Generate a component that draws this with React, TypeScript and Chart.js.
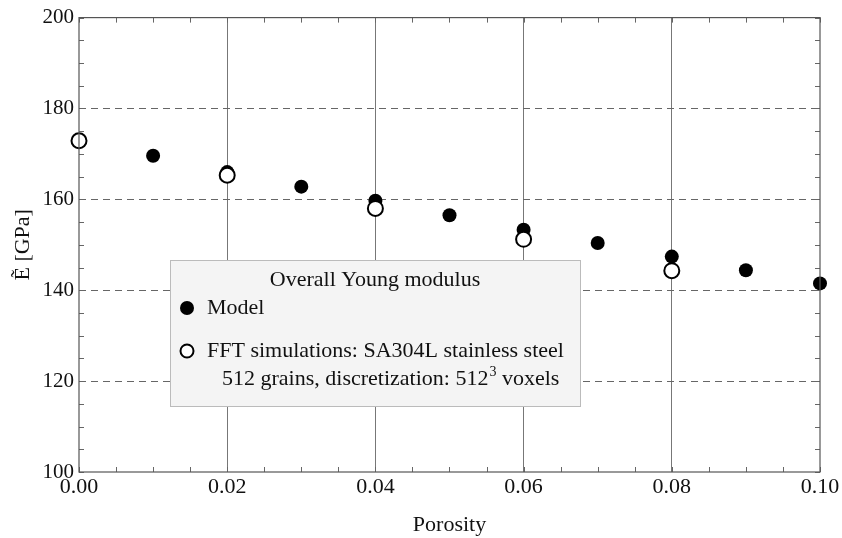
import React, { useEffect, useRef } from 'react';
import { Chart, registerables } from 'chart.js';
Chart.register(...registerables);

const porosityModel = [0, 0.01, 0.02, 0.03, 0.04, 0.05, 0.06, 0.07, 0.08, 0.09, 0.1];
const modelValues = [172.8, 169.6, 166.0, 162.8, 159.7, 156.5, 153.3, 150.4, 147.4, 144.4, 141.5];
const porosityFFT = [0, 0.02, 0.04, 0.06, 0.08];
const fftValues = [172.9, 165.3, 158.0, 151.2, 144.3];
const xTickValues = [0, 0.02, 0.04, 0.06, 0.08, 0.1];
const yTickValues = [100, 120, 140, 160, 180, 200];
const legendTitle = 'Overall Young modulus';
const legendModel = 'Model';
const legendFFT = 'FFT simulations: SA304L stainless steel';
const legendFFT2a = '512 grains, discretization: 512';
const legendFFT2sup = '3';
const legendFFT2b = ' voxels';

const FONT = '"Liberation Serif", "Times New Roman", serif';

const framePlugin = {
  id: 'frameAndLegend',
  afterDatasetsDraw(chart: any) {
    const { ctx, chartArea: a, scales } = chart;
    const xs = scales.x, ys = scales.y;
    ctx.save();
    ctx.strokeStyle = '#666';
    ctx.lineWidth = 1;
    for (let v = 0; v <= 0.1 + 1e-9; v += 0.005) {
      const px = Math.round(xs.getPixelForValue(v)) + 0.5;
      ctx.beginPath();
      ctx.moveTo(px, a.bottom); ctx.lineTo(px, a.bottom - 5);
      ctx.moveTo(px, a.top); ctx.lineTo(px, a.top + 5);
      ctx.stroke();
    }
    for (let v = 100; v <= 200; v += 5) {
      const py = Math.round(ys.getPixelForValue(v)) + 0.5;
      ctx.beginPath();
      ctx.moveTo(a.left, py); ctx.lineTo(a.left + 5, py);
      ctx.moveTo(a.right, py); ctx.lineTo(a.right - 5, py);
      ctx.stroke();
    }
    ctx.strokeStyle = '#555';
    ctx.lineWidth = 1.2;
    ctx.strokeRect(a.left, a.top, a.right - a.left, a.bottom - a.top);
    ctx.restore();
  },
  afterDraw(chart: any) {
    const { ctx } = chart;
    ctx.save();
    const L = 170, T = 260, R = 580, B = 406;
    ctx.fillStyle = '#f4f4f4';
    ctx.fillRect(L, T, R - L, B - T);
    ctx.strokeStyle = '#bbb';
    ctx.lineWidth = 1;
    ctx.strokeRect(L + 0.5, T + 0.5, R - L, B - T);
    ctx.fillStyle = '#111';
    ctx.font = `22px ${FONT}`;
    ctx.textBaseline = 'middle';
    ctx.textAlign = 'center';
    ctx.fillText(legendTitle, (L + R) / 2, 280);
    ctx.textAlign = 'left';
    ctx.beginPath();
    ctx.arc(187, 308, 7, 0, Math.PI * 2);
    ctx.fillStyle = '#000';
    ctx.fill();
    ctx.fillStyle = '#111';
    ctx.fillText(legendModel, 207, 308);
    ctx.beginPath();
    ctx.arc(187, 351, 6.5, 0, Math.PI * 2);
    ctx.fillStyle = '#fff';
    ctx.fill();
    ctx.strokeStyle = '#000';
    ctx.lineWidth = 2;
    ctx.stroke();
    ctx.fillStyle = '#111';
    ctx.fillText(legendFFT, 207, 351);
    let x = 222;
    ctx.fillText(legendFFT2a, x, 379);
    x += ctx.measureText(legendFFT2a).width;
    ctx.font = `14px ${FONT}`;
    ctx.fillText(legendFFT2sup, x + 1, 372);
    x += ctx.measureText(legendFFT2sup).width + 1;
    ctx.font = `22px ${FONT}`;
    ctx.fillText(legendFFT2b, x, 379);
    ctx.restore();
  },
};

export default function App() {
  const ref = useRef<HTMLCanvasElement>(null);
  useEffect(() => {
    document.body.style.margin = '0';
    const chart = new Chart(ref.current as HTMLCanvasElement, {
      type: 'scatter',
      data: {
        datasets: [
          {
            label: legendFFT,
            data: porosityFFT.map((x, i) => ({ x, y: fftValues[i] })),
            pointRadius: 7.5,
            pointBorderWidth: 2,
            pointBackgroundColor: '#fff',
            pointBorderColor: '#000',
            order: 0,
          },
          {
            label: legendModel,
            data: porosityModel.map((x, i) => ({ x, y: modelValues[i] })),
            pointRadius: 7,
            pointBorderWidth: 0,
            pointBackgroundColor: '#000',
            pointBorderColor: '#000',
            order: 1,
          },
        ],
      },
      options: {
        animation: false,
        responsive: false,
        clip: false as any,
        layout: { padding: { top: 12, right: 22, left: 0, bottom: 0 } },
        plugins: { legend: { display: false }, tooltip: { enabled: false } },
        scales: {
          x: {
            type: 'linear',
            min: 0,
            max: 0.1,
            afterBuildTicks: (s: any) => { s.ticks = xTickValues.map((v) => ({ value: v })); },
            afterFit: (s: any) => { s.height = 66; },
            ticks: {
              font: { family: FONT, size: 22 },
              color: '#111',
              padding: 2,
              callback: (v: any) => Number(v).toFixed(2),
              maxRotation: 0,
            },
            grid: {
              color: (c: any) => (c.tick && (c.tick.value === 0 || Math.abs(c.tick.value - 0.1) < 1e-9) ? 'rgba(0,0,0,0)' : '#777'),
              lineWidth: 1,
              drawTicks: false,
            },
            border: { display: false },
            title: { display: true, text: 'Porosity', font: { family: FONT, size: 22 }, color: '#111', padding: { top: 6, bottom: 0 } },
          },
          y: {
            type: 'linear',
            min: 100,
            max: 200,
            afterBuildTicks: (s: any) => { s.ticks = yTickValues.map((v) => ({ value: v })); },
            afterFit: (s: any) => { s.width = 79; },
            ticks: { font: { family: FONT, size: 21 }, color: '#111', padding: 5 },
            grid: {
              color: (c: any) => (c.tick && (c.tick.value === 100 || c.tick.value === 200) ? 'rgba(0,0,0,0)' : '#666'),
              lineWidth: 1,
              drawTicks: false,
            },
            border: { display: false, dash: [7, 5] },
            title: { display: true, text: 'Ẽ [GPa]', font: { family: FONT, size: 22 }, color: '#111', padding: { top: 10, bottom: 4 } },
          },
        },
      },
      plugins: [framePlugin],
    } as any);
    return () => chart.destroy();
  }, []);
  return (
    <div style={{ position: 'absolute', left: 0, top: 0, width: 842, height: 538, background: '#fff' }}>
      <canvas ref={ref} width={842} height={538} style={{ width: 842, height: 538 }} />
    </div>
  );
}
